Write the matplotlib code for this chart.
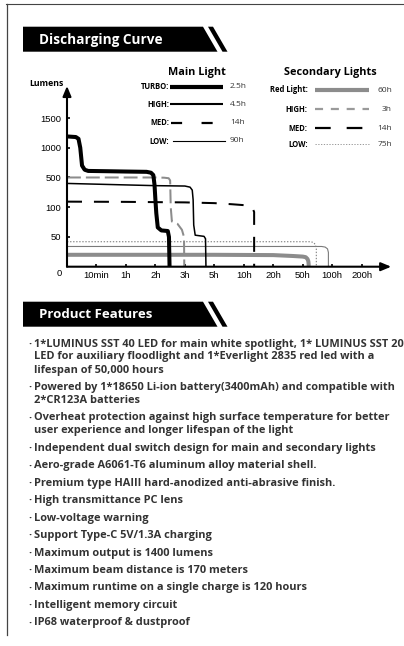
import numpy as np
import matplotlib
matplotlib.use('Agg')
import matplotlib.pyplot as plt
from matplotlib.patches import Polygon

plt.rcParams['lines.scale_dashes'] = False
FONT = ['Open Sans', 'DejaVu Sans']
AXFONT = ['Liberation Sans', 'DejaVu Sans']
plt.rcParams['font.family'] = FONT

# ---------------- data ----------------
x_scale_hours = [0, 1/6, 1, 2, 3, 5, 10, 20, 50, 100, 200, 400]
x_tick_hours = [1/6, 1, 2, 3, 5, 10, 20, 50, 100, 200]
x_tick_labels = ['10min', '1h', '2h', '3h', '5h', '10h', '20h', '50h', '100h', '200h']
y_scale_lumens = [0, 50, 100, 500, 1000, 1500, 2000, 2500]
y_tick_lumens = [50, 100, 500, 1000, 1500]
y_tick_labels = ['50', '100', '500', '1000', '1500']

red_hours = [0, 5, 20, 40, 50, 55, 58, 59.5, 60, 60]
red_lumens = [20, 20, 19.5, 18, 17, 16, 13, 9, 4, 0]

turbo_hours = [0, 0.05, 0.065, 0.075, 0.085, 0.1, 0.12, 0.5, 1.0, 1.7, 1.85, 1.93, 1.97,
               2.0, 2.03, 2.08, 2.2, 2.42, 2.46, 2.48]
turbo_lumens = [1190, 1180, 1150, 1000, 700, 630, 610, 605, 600, 595, 580, 540, 400,
                200, 90, 66, 61, 60, 50, 0]

high_hours = [0, 1, 2, 3, 3.35, 3.5, 3.56, 3.6, 3.7, 4.3, 4.4, 4.43]
high_lumens = [420, 400, 390, 385, 370, 330, 200, 70, 53, 51, 47, 0]

med_hours = [0, 1, 3, 5, 8, 10, 11.5, 12.8, 13.5, 13.5]
med_lumens = [175, 172, 165, 155, 140, 128, 115, 102, 92, 0]

sec_high_hours = [0, 2.0, 2.3, 2.45, 2.5, 2.52, 2.56, 2.75, 2.9, 2.97, 2.98]
sec_high_lumens = [500, 500, 497, 490, 460, 100, 76, 72, 62, 50, 0]

sec_low_hours = [0, 62, 68, 71.5, 73, 73]
sec_low_lumens = [42, 42, 41, 37, 30, 0]

main_low_hours = [0, 82, 88, 92, 93.5, 93.5]
main_low_lumens = [34, 34, 33, 30, 24, 0]

main_legend_labels = ['TURBO:', 'HIGH:', 'MED:', 'LOW:']
main_legend_values = ['2.5h', '4.5h', '14h', '90h']
sec_legend_labels = ['Red Light:', 'HIGH:', 'MED:', 'LOW:']
sec_legend_values = ['60h', '3h', '14h', '75h']

features = [
    ['1*LUMINUS SST 40 LED for main white spotlight, 1* LUMINUS SST 20',
     'LED for auxiliary floodlight and 1*Everlight 2835 red led with a',
     'lifespan of 50,000 hours'],
    ['Powered by 1*18650 Li-ion battery(3400mAh) and compatible with',
     '2*CR123A batteries'],
    ['Overheat protection against high surface temperature for better',
     'user experience and longer lifespan of the light'],
    ['Independent dual switch design for main and secondary lights'],
    ['Aero-grade A6061-T6 aluminum alloy material shell.'],
    ['Premium type HAIII hard-anodized anti-abrasive finish.'],
    ['High transmittance PC lens'],
    ['Low-voltage warning'],
    ['Support Type-C 5V/1.3A charging'],
    ['Maximum output is 1400 lumens'],
    ['Maximum beam distance is 170 meters'],
    ['Maximum runtime on a single charge is 120 hours'],
    ['Intelligent memory circuit'],
    ['IP68 waterproof & dustproof'],
]

# ---------------- figure ----------------
W, H = 404, 646
fig = plt.figure(figsize=(W / 100, H / 100), dpi=100)
fig.patch.set_facecolor('white')
bg = fig.add_axes([0, 0, 1, 1])
bg.set_xlim(0, W)
bg.set_ylim(H, 0)
bg.axis('off')

# frame
bg.plot([6, W], [4, 4], color='#444444', lw=0.8)
bg.plot([6.7, 6.7], [4, 635], color='#444444', lw=0.9)

def banner(y0, text, size):
    y1 = y0 + 25
    bg.add_patch(Polygon([(23, y0), (203, y0), (217.5, y1), (23, y1)],
                         closed=True, color='black', lw=0))
    bg.add_patch(Polygon([(208, y0), (213, y0), (227.5, y1), (222.5, y1)],
                         closed=True, color='black', lw=0))
    bg.text(39, y0 + 13, text, color='white', fontsize=size, fontweight='bold',
            va='center', ha='left', family=FONT)

banner(26.7, 'Discharging Curve', 9.8)
banner(301.7, 'Product Features', 9.5)

# legend titles
bg.text(197, 73, 'Main Light', fontsize=7.8, fontweight='bold', ha='center', va='center')
bg.text(330, 73, 'Secondary Lights', fontsize=7.8, fontweight='bold', ha='center', va='center')
bg.text(46, 83, 'Lumens', fontsize=6.3, fontweight='bold', ha='center', va='center')

main_y = [86.7, 104.3, 122.7, 141]
main_styles = [dict(color='black', lw=3.0, solid_capstyle='butt'),
               dict(color='black', lw=1.5, solid_capstyle='butt'),
               dict(color='black', lw=1.6, dashes=(8.0, 14.0), dash_capstyle='butt'),
               dict(color='black', lw=0.8)]
main_x = [(170, 223), (170, 223), (171, 223), (173, 225)]
for lab, val, y, st, (xa, xb) in zip(main_legend_labels, main_legend_values, main_y, main_styles, main_x):
    bg.text(169, y, lab, fontsize=5.5, fontweight='bold', ha='right', va='center')
    bg.plot([xa, xb], [y, y], **st)
    bg.text(230, y, val, fontsize=6, ha='left', va='center', color='#333333')

sec_y = [90, 109.3, 128.3, 144.3]
sec_styles = [dict(color='#8c8c8c', lw=3.0, solid_capstyle='butt'),
              dict(color='#9a9a9a', lw=1.6, dashes=(5.8, 5.6), dash_capstyle='butt'),
              dict(color='black', lw=1.6, dashes=(11.3, 11.5), dash_capstyle='butt'),
              dict(color='#888888', lw=0.6, dashes=(0.9, 1.1))]
for lab, val, y, st in zip(sec_legend_labels, sec_legend_values, sec_y, sec_styles):
    bg.text(307.5, y, lab, fontsize=5.5, fontweight='bold', ha='right', va='center')
    bg.plot([315, 369], [y, y], **st)
    bg.text(392, y, val, fontsize=6, ha='right', va='center', color='#333333')

# features text
y = 344.0
for item in features:
    bg.text(28.5, y, '·', fontsize=7.9, fontweight='bold', ha='left', va='center', color='#333333')
    for i, line in enumerate(item):
        bg.text(34, y, line, fontsize=7.9, fontweight='bold', ha='left', va='center',
                color='#333333')
        if i < len(item) - 1:
            y += 13.0
    y += 17.45

# ---------------- chart axes ----------------
ax_left, ax_right = 67, 67 + 11 * 29.47
ax_top, ax_bottom = 86, 266.7
ax = fig.add_axes([ax_left / W, 1 - ax_bottom / H, (ax_right - ax_left) / W, (ax_bottom - ax_top) / H])
ax.patch.set_alpha(0)

xi = np.arange(len(x_scale_hours))
yi = np.arange(len(y_scale_lumens))
ax.set_xscale('function', functions=(lambda v: np.interp(v, x_scale_hours, xi),
                                     lambda u: np.interp(u, xi, x_scale_hours)))
ax.set_yscale('function', functions=(lambda v: np.interp(v, y_scale_lumens, yi),
                                     lambda u: np.interp(u, yi, y_scale_lumens)))
ax.set_xlim(0, 400)
ytop = np.interp((ax_bottom - ax_top) / 29.74, yi, y_scale_lumens)
ax.set_ylim(0, ytop)

ax.plot(red_hours, red_lumens, color='#8c8c8c', lw=2.9, solid_joinstyle='round', zorder=2)
ax.plot(main_low_hours, main_low_lumens, color='#7a7a7a', lw=0.8, zorder=2)
ax.plot(sec_low_hours, sec_low_lumens, color='#808080', lw=0.8, dashes=(1.0, 1.2), zorder=2)
ax.plot(sec_high_hours, sec_high_lumens, color='#8c8c8c', lw=1.45, dashes=(10.0, 3.6), zorder=3)
ax.plot(med_hours, med_lumens, color='black', lw=1.45, dashes=(10.8, 8.6), zorder=3)
ax.plot(high_hours, high_lumens, color='black', lw=1.1, solid_joinstyle='round', zorder=4)
ax.plot(turbo_hours, turbo_lumens, color='black', lw=2.9, solid_joinstyle='round', zorder=5)

for s in ax.spines.values():
    s.set_visible(False)
ax.annotate('', xy=(0, 1), xytext=(0, 0), xycoords='axes fraction',
            arrowprops=dict(arrowstyle='-|>,head_length=0.6,head_width=0.25', lw=1.5,
                            color='black', shrinkA=0, shrinkB=0), zorder=6)
ax.annotate('', xy=(1, 0), xytext=(0, 0), xycoords='axes fraction',
            arrowprops=dict(arrowstyle='-|>,head_length=0.6,head_width=0.25', lw=1.5,
                            color='black', shrinkA=0, shrinkB=0), zorder=6)

ax.set_xticks(x_tick_hours)
ax.set_xticklabels(x_tick_labels, family=AXFONT, fontsize=6.8)
ax.set_yticks(y_tick_lumens)
ax.set_yticklabels(y_tick_labels, family=AXFONT, fontsize=6.8)
ax.minorticks_off()
ax.tick_params(axis='x', direction='in', length=2.5, width=1.2, pad=3)
ax.tick_params(axis='y', direction='in', length=2.5, width=1.2, pad=4)
ax.annotate('0', xy=(0, 0), xycoords='axes fraction', xytext=(-5.8, -5.2),
            textcoords='offset points', ha='center', va='center', family=AXFONT, fontsize=6.8)

fig.savefig('out.png', dpi=100, facecolor='white')
